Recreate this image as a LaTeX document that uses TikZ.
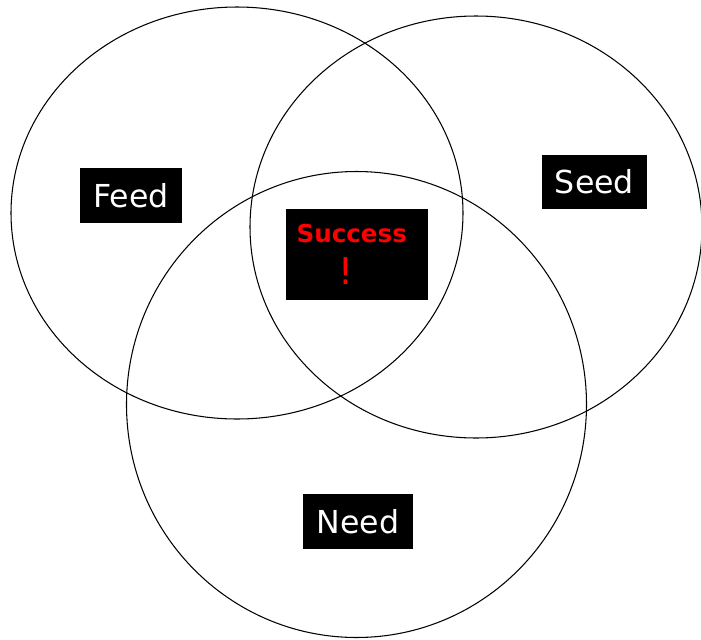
\documentclass[tikz,border=0pt]{standalone}
\usepackage{fontspec}
\setmainfont{DejaVu Sans}
\usepackage{tikz}
\usetikzlibrary{positioning,calc}

\begin{document}
\begin{tikzpicture}[x=0.02cm,y=0.02cm]
\tikzstyle{every node}+=[inner sep=0pt]
\tikzstyle{label box}=[fill=black, text=white, font=\fontsize{18}{21}\selectfont]
\tikzstyle{win box}=[fill=black, text=red, align=center, font=\bfseries\fontsize{14}{24}\selectfont]
\useasboundingbox (0,0) rectangle (701,-640);
\draw [black, line width=0.6pt] (237,-213) ellipse (226 and 206);
\draw [black, line width=0.6pt] (476,-227) ellipse (226 and 211);
\draw [black, line width=0.6pt] (356.5,-404.5) ellipse (230 and 233);
\node [label box, minimum width=58pt, minimum height=31.3pt] (feed) at (131,-195.5) {Feed};
\node [label box, minimum width=59.7pt, minimum height=30.7pt] (seed) at (594.5,-182) {Seed};
\node [label box, minimum width=62.6pt, minimum height=31.3pt] (need) at (358,-521.5) {Need};
\node [win box, minimum width=80.8pt, minimum height=51.8pt] (success) at (357,-254.5)
  {Success\hspace*{6pt}\\{\mdseries\fontsize{21}{24}\selectfont !}\hspace*{12.5pt}};
\end{tikzpicture}
\end{document}
